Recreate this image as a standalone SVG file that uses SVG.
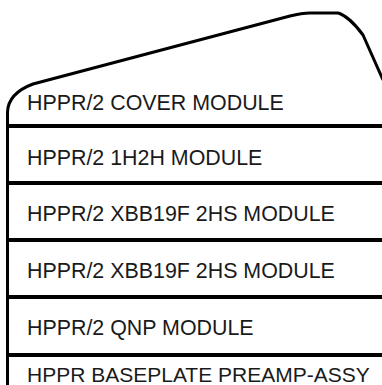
<svg xmlns="http://www.w3.org/2000/svg" width="382" height="385" viewBox="0 0 382 385">
<style>
.lbl{font-family:"Liberation Sans",Arial,sans-serif;font-size:21.4px;fill:#1a1a1a}
.div{stroke:#000;stroke-width:4;fill:none}
.edge{stroke:#000;stroke-width:3;fill:none;stroke-linejoin:round}
</style>
<rect width="382" height="385" fill="#fff"/>
<g id="cover">
<path class="edge" d="M 7.5 128 L 7.5 112 C 8 100 17 90 33 84 L 290 16 C 298 14 303 13 310 13 L 338 13 C 345 15 355 24 363 35 L 383 80"/>
<text class="lbl" x="27" y="110">HPPR/2 COVER MODULE</text>
</g>
<g id="m1h2h">
<line class="div" x1="7" y1="126" x2="382" y2="126"/>
<text class="lbl" x="27" y="165">HPPR/2 1H2H MODULE</text>
</g>
<g id="xbb1">
<line class="div" x1="7" y1="183" x2="382" y2="183"/>
<text class="lbl" x="27" y="221">HPPR/2 XBB19F 2HS MODULE</text>
</g>
<g id="xbb2">
<line class="div" x1="7" y1="240" x2="382" y2="240"/>
<text class="lbl" x="27" y="278">HPPR/2 XBB19F 2HS MODULE</text>
</g>
<g id="qnp">
<line class="div" x1="7" y1="297" x2="382" y2="297"/>
<text class="lbl" x="27" y="335">HPPR/2 QNP MODULE</text>
</g>
<g id="baseplate">
<line class="div" x1="7" y1="355" x2="382" y2="355"/>
<text class="lbl" x="27" y="382" style="font-size:21px">HPPR BASEPLATE PREAMP-ASSY</text>
</g>
<g id="connectors">
<line class="edge" x1="7.5" y1="126" x2="7.5" y2="385"/>
</g>
</svg>
